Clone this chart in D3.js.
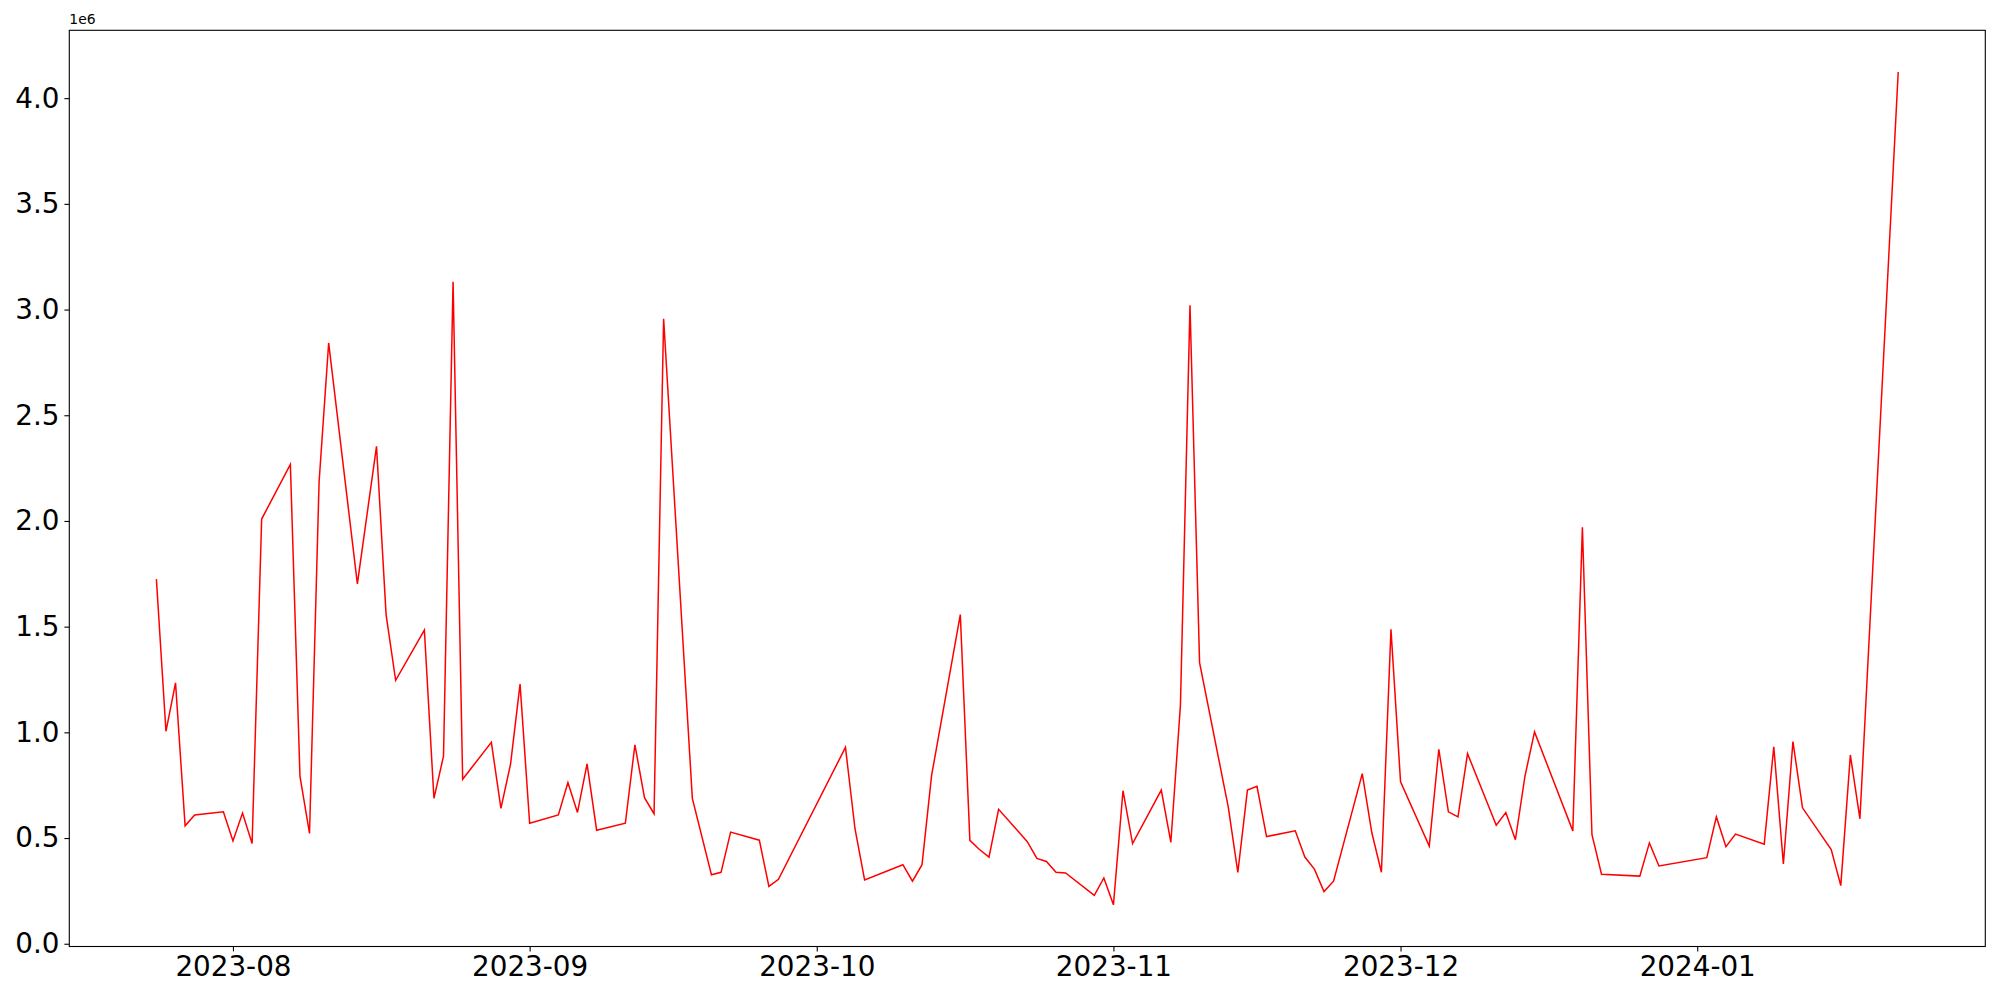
<!DOCTYPE html>
<html>
<head>
<meta charset="utf-8">
<script src="https://cdn.jsdelivr.net/npm/d3@7"></script>
<style>
  html, body { margin: 0; padding: 0; background: #fff; }
  svg { display: block; }
  text { font-family: "DejaVu Sans", sans-serif; fill: #000; }
</style>
</head>
<body>
<svg id="chart" width="2000" height="1000"></svg>
<script>
// ---- Data ----
const dates = [
  "2023-07-24","2023-07-25","2023-07-26","2023-07-27","2023-07-28","2023-07-31",
  "2023-08-01","2023-08-02","2023-08-03","2023-08-04","2023-08-07","2023-08-08","2023-08-09","2023-08-10","2023-08-11",
  "2023-08-14","2023-08-16","2023-08-17","2023-08-18","2023-08-21","2023-08-22","2023-08-23","2023-08-24","2023-08-25",
  "2023-08-28","2023-08-29","2023-08-30","2023-08-31","2023-09-01",
  "2023-09-04","2023-09-05","2023-09-06","2023-09-07","2023-09-08","2023-09-11","2023-09-12","2023-09-13","2023-09-14","2023-09-15",
  "2023-09-18","2023-09-20","2023-09-21","2023-09-22","2023-09-25","2023-09-26","2023-09-27",
  "2023-10-04","2023-10-05","2023-10-06","2023-10-10","2023-10-11","2023-10-12","2023-10-13",
  "2023-10-16","2023-10-17","2023-10-18","2023-10-19","2023-10-20","2023-10-23","2023-10-24","2023-10-25","2023-10-26","2023-10-27",
  "2023-10-30","2023-10-31","2023-11-01","2023-11-02","2023-11-03","2023-11-06","2023-11-07","2023-11-08","2023-11-09","2023-11-10",
  "2023-11-13","2023-11-14","2023-11-15","2023-11-16","2023-11-17","2023-11-20","2023-11-21","2023-11-22","2023-11-23","2023-11-24",
  "2023-11-27","2023-11-28","2023-11-29","2023-11-30","2023-12-01","2023-12-04","2023-12-05","2023-12-06","2023-12-07","2023-12-08",
  "2023-12-11","2023-12-12","2023-12-13","2023-12-14","2023-12-15","2023-12-19","2023-12-20","2023-12-21","2023-12-22",
  "2023-12-26","2023-12-27","2023-12-28","2024-01-02","2024-01-03","2024-01-04","2024-01-05",
  "2024-01-08","2024-01-09","2024-01-10","2024-01-11","2024-01-12","2024-01-15","2024-01-16","2024-01-17","2024-01-18","2024-01-22"
];
const values = [
  1725000,1005000,1234000,558000,609000,624000,
  486000,618000,474000,2009000,2268000,793000,522000,2184000,2842000,
  1702000,2353000,1557000,1246000,1484000,688000,887000,3131000,778000,
  953000,640000,848000,1228000,570000,
  609000,763000,621000,851000,537000,570000,941000,691000,615000,2956000,
  688000,326000,338000,528000,490000,271000,305000,
  929000,543000,302000,374000,296000,374000,796000,
  1557000,489000,446000,410000,636000,483000,404000,389000,338000,335000,
  229000,311000,184000,724000,474000,727000,480000,1128000,3020000,1330000,
  646000,338000,727000,745000,507000,534000,410000,353000,247000,296000,
  805000,525000,338000,1487000,766000,462000,920000,624000,600000,899000,
  561000,621000,492000,793000,1002000,534000,1970000,516000,329000,
  320000,477000,368000,407000,600000,459000,519000,
  471000,932000,377000,956000,643000,446000,275000,893000,591000,4124000
];
const yTickValues = [0, 500000, 1000000, 1500000, 2000000, 2500000, 3000000, 3500000, 4000000];
const yTickLabels = ["0.0","0.5","1.0","1.5","2.0","2.5","3.0","3.5","4.0"];
const xTickDates = ["2023-08-01","2023-09-01","2023-10-01","2023-11-01","2023-12-01","2024-01-01"];
const xTickLabels = ["2023-08","2023-09","2023-10","2023-11","2023-12","2024-01"];
const offsetLabel = "1e6";

// ---- Layout ----
const svg = d3.select("#chart");
const L = 69.3, R = 1985.3, T = 30.3, B = 946.5;

const parse = d3.utcParse("%Y-%m-%d");
const data = dates.map((d, i) => ({ date: parse(d), value: values[i] }));

// matplotlib-like 5% margins
const xExt = d3.extent(data, d => d.date);
const xPad = (xExt[1] - xExt[0]) * 0.05;
const yExt = d3.extent(data, d => d.value);
const yPad = (yExt[1] - yExt[0]) * 0.05;

const x = d3.scaleUtc()
  .domain([new Date(+xExt[0] - xPad), new Date(+xExt[1] + xPad)])
  .range([L, R]);
const y = d3.scaleLinear()
  .domain([yExt[0] - yPad, yExt[1] + yPad])
  .range([B, T]);

// clip
svg.append("defs").append("clipPath").attr("id", "clip")
  .append("rect").attr("x", L).attr("y", T).attr("width", R - L).attr("height", B - T);

// line
const line = d3.line().x(d => x(d.date)).y(d => y(d.value));
svg.append("path")
  .datum(data)
  .attr("clip-path", "url(#clip)")
  .attr("fill", "none")
  .attr("stroke", "#ff0000")
  .attr("stroke-width", 1.5)
  .attr("stroke-linejoin", "miter")
  .attr("d", line);

// y axis
const yAxis = d3.axisLeft(y)
  .tickValues(yTickValues)
  .tickFormat((d, i) => yTickLabels[i])
  .tickSize(4.9)
  .tickPadding(4.9);
const gy = svg.append("g").attr("transform", `translate(${L},0)`).call(yAxis);
gy.select(".domain").remove();
gy.selectAll(".tick line").attr("stroke", "#000").attr("stroke-width", 1.1);
gy.selectAll(".tick text")
  .style("font-family", "'DejaVu Sans', sans-serif")
  .style("font-size", "27.8px")
  .attr("fill", "#000");

// x axis
const xAxis = d3.axisBottom(x)
  .tickValues(xTickDates.map(parse))
  .tickFormat((d, i) => xTickLabels[i])
  .tickSize(4.9)
  .tickPadding(4.9);
const gx = svg.append("g").attr("transform", `translate(0,${B})`).call(xAxis);
gx.select(".domain").remove();
gx.selectAll(".tick line").attr("stroke", "#000").attr("stroke-width", 1.1);
gx.selectAll(".tick text")
  .style("font-family", "'DejaVu Sans', sans-serif")
  .style("font-size", "27.8px")
  .attr("fill", "#000");

// frame
svg.append("rect")
  .attr("x", L).attr("y", T).attr("width", R - L).attr("height", B - T)
  .attr("fill", "none").attr("stroke", "#000").attr("stroke-width", 1.1);

// offset label
svg.append("text")
  .attr("x", L).attr("y", T - 6)
  .style("font-size", "13.9px")
  .text(offsetLabel);
</script>
</body>
</html>
